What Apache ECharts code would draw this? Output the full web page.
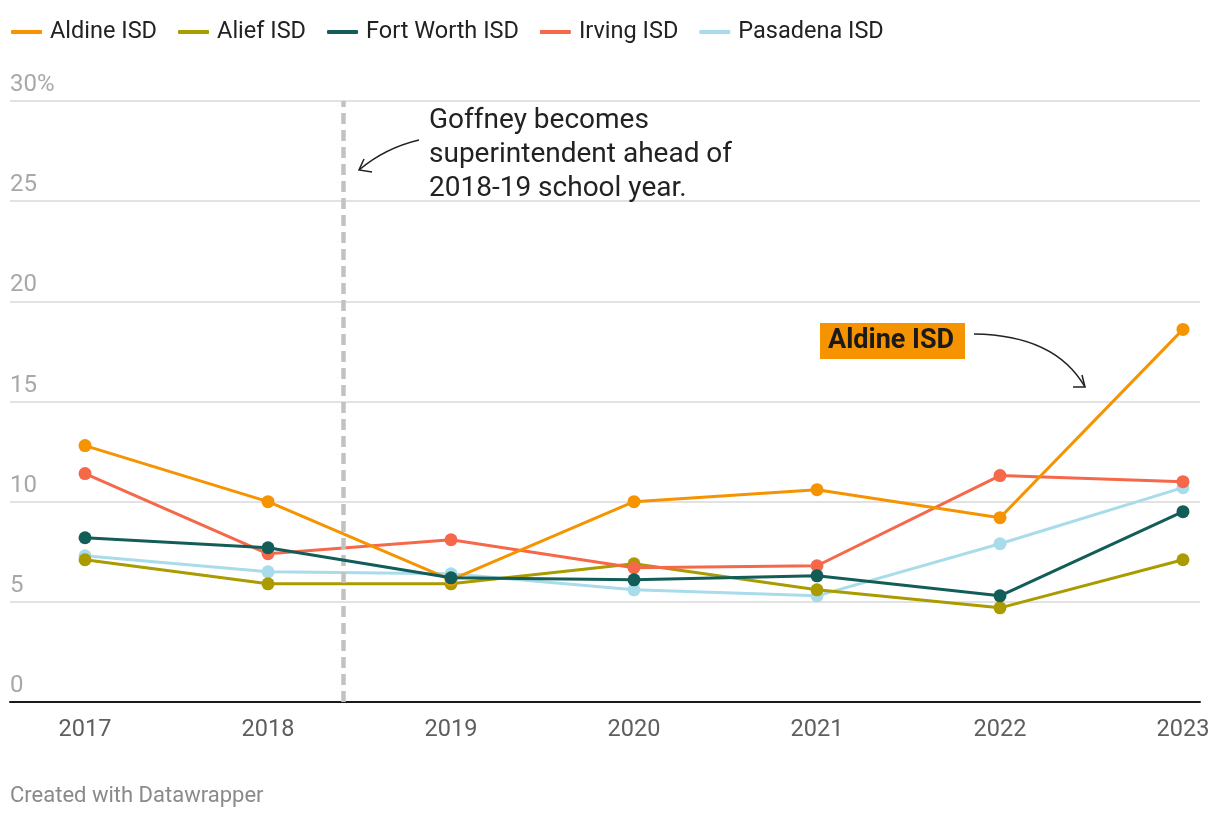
<!DOCTYPE html>
<html>
<head>
<meta charset="utf-8">
<script src="https://cdn.jsdelivr.net/npm/echarts@6/dist/echarts.min.js"></script>
<style>
html,body{margin:0;padding:0;background:#fff;}
#chart{width:1220px;height:818px;}
</style>
</head>
<body>
<div id="chart"></div>
<script>
const years = [2017, 2018, 2019, 2020, 2021, 2022, 2023];
const aldine    = [12.8, 10.0, 6.1, 10.0, 10.6, 9.2, 18.6];
const alief     = [7.1, 5.9, 5.9, 6.9, 5.6, 4.7, 7.1];
const fortWorth = [8.2, 7.7, 6.2, 6.1, 6.3, 5.3, 9.5];
const irving    = [11.4, 7.4, 8.1, 6.7, 6.8, 11.3, 11.0];
const pasadena  = [7.3, 6.5, 6.4, 5.6, 5.3, 7.9, 10.7];
const yTicks = [0, 5, 10, 15, 20, 25, 30];
const goffneyYear = 2018.41;

const colors = {
  'Aldine ISD': '#f59300',
  'Alief ISD': '#aa9b00',
  'Fort Worth ISD': '#135d58',
  'Irving ISD': '#f5684a',
  'Pasadena ISD': '#a8dcea'
};
const seriesData = [
  ['Pasadena ISD', pasadena],
  ['Alief ISD', alief],
  ['Irving ISD', irving],
  ['Aldine ISD', aldine],
  ['Fort Worth ISD', fortWorth]
];
const FONT = 'Roboto, "Noto Sans", sans-serif';

const series = seriesData.map(([name, vals], i) => ({
  name: name,
  type: 'line',
  data: years.map((y, k) => [y, vals[k]]),
  symbol: 'circle',
  symbolSize: 13,
  showSymbol: true,
  lineStyle: { width: 3, color: colors[name] },
  itemStyle: { color: colors[name] },
  emphasis: { disabled: true },
  animation: false,
  z: 2 + i
}));
series[0].markLine = {
  silent: true,
  symbol: ['none', 'none'],
  label: { show: false },
  lineStyle: { color: '#c2c2c2', width: 4.5, type: [11, 6] },
  data: [{ xAxis: goffneyYear }],
  animation: false
};

const chart = echarts.init(document.getElementById('chart'));
chart.setOption({
  animation: false,
  textStyle: { fontFamily: FONT },
  legend: {
    data: ['Aldine ISD', 'Alief ISD', 'Fort Worth ISD', 'Irving ISD', 'Pasadena ISD'],
    left: 6, top: 15,
    icon: 'roundRect',
    itemWidth: 31, itemHeight: 4,
    itemGap: 21,
    textStyle: { fontSize: 23.5, color: '#222', fontFamily: FONT, padding: [0, 0, 0, 3] },
    selectedMode: false
  },
  grid: { left: 10, right: 20, top: 101, bottom: 116, containLabel: false },
  xAxis: {
    type: 'value',
    min: 2016.59,
    max: 2023.093,
    axisLine: { show: true, onZero: false, lineStyle: { color: '#1a1a1a', width: 2 } },
    axisTick: { show: false },
    splitLine: { show: false },
    axisLabel: {
      customValues: years,
      formatter: v => String(v),
      fontSize: 23.5, color: '#5e5e5e', margin: 16, fontFamily: FONT
    }
  },
  yAxis: {
    type: 'value',
    min: 0, max: 30, interval: 5,
    axisLine: { show: false },
    axisTick: { show: false },
    splitLine: { show: true, lineStyle: { color: '#e2e2e2', width: 2 } },
    axisLabel: {
      inside: true,
      margin: 0,
      verticalAlign: 'bottom',
      padding: [0, 0, 4, 0],
      fontSize: 24, color: '#a8a8a8', fontFamily: FONT,
      formatter: v => v === 30 ? '30%' : String(v)
    }
  },
  graphic: [
    {
      type: 'text', left: 429, top: 104, z: 10,
      style: {
        text: 'Goffney becomes\nsuperintendent ahead of\n2018-19 school year.',
        font: '28px ' + FONT, fill: '#222', lineHeight: 34
      }
    },
    {
      type: 'bezierCurve', z: 10,
      shape: { x1: 419, y1: 140, x2: 359, y2: 170, cpx1: 385, cpy1: 148 },
      style: { stroke: '#222', lineWidth: 1.5, fill: null }
    },
    {
      type: 'polyline', z: 10,
      shape: { points: [[372, 172], [359, 170], [364, 159]] },
      style: { stroke: '#222', lineWidth: 1.5, fill: null }
    },
    {
      type: 'rect', z: 10,
      shape: { x: 820, y: 323, width: 145, height: 36 },
      style: { fill: '#f59300' }
    },
    {
      type: 'text', z: 11, left: 828, top: 324,
      style: { text: 'Aldine ISD', font: 'bold 27px ' + FONT, fill: '#1a1a1a', lineHeight: 34 }
    },
    {
      type: 'bezierCurve', z: 10,
      shape: { x1: 974, y1: 334, x2: 1085, y2: 387, cpx1: 1055, cpy1: 335 },
      style: { stroke: '#222', lineWidth: 1.5, fill: null }
    },
    {
      type: 'polyline', z: 10,
      shape: { points: [[1073, 387], [1085, 387], [1082, 375]] },
      style: { stroke: '#222', lineWidth: 1.5, fill: null }
    },
    {
      type: 'text', left: 10, top: 785, z: 10,
      style: { text: 'Created with Datawrapper', font: '22px ' + FONT, fill: '#8a8a8a' }
    }
  ],
  series: series
});
</script>
</body>
</html>
